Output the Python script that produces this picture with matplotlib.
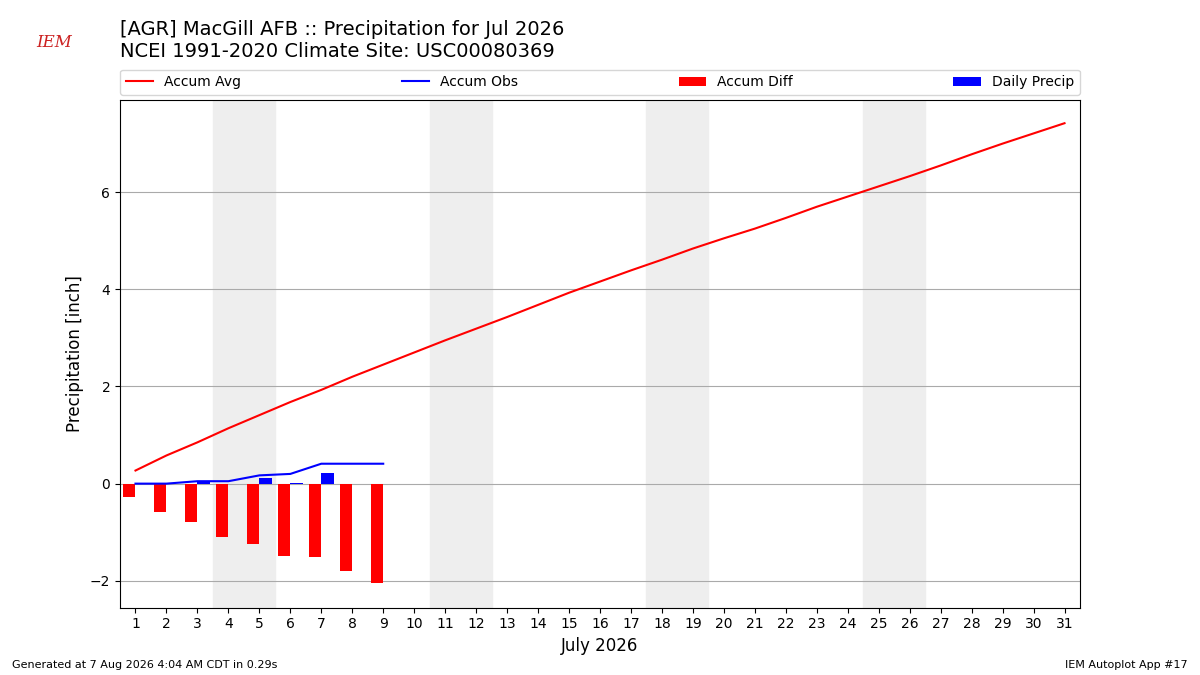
import matplotlib
matplotlib.use("Agg")
import matplotlib.pyplot as plt
import numpy as np

days = list(range(1, 32))
accum_avg = [0.27, 0.58, 0.85, 1.14, 1.41, 1.68, 1.93, 2.20, 2.45, 2.70, 2.95, 3.19, 3.43, 3.68, 3.93,
             4.16, 4.39, 4.61, 4.84, 5.05, 5.25, 5.47, 5.70, 5.91, 6.12, 6.33, 6.55, 6.78, 7.00, 7.21, 7.42]
obs_days = [1, 2, 3, 4, 5, 6, 7, 8, 9]
accum_obs = [0.0, 0.0, 0.05, 0.05, 0.17, 0.20, 0.41, 0.41, 0.41]
daily_precip = [0.0, 0.0, 0.05, 0.0, 0.12, 0.01, 0.21, 0.0, 0.0]
accum_diff = [-0.27, -0.58, -0.80, -1.09, -1.24, -1.48, -1.52, -1.79, -2.04]
weekends = [(3.5, 5.5), (10.5, 12.5), (17.5, 19.5), (24.5, 26.5)]

fig = plt.figure(figsize=(12, 6.75), dpi=100)
ax = fig.add_axes([0.1, 0.1, 0.8, 0.752])
for a, b in weekends:
    ax.axvspan(a, b, color="#eeeeee", zorder=0)
l1, = ax.plot(days, accum_avg, color="red", label="Accum Avg", zorder=3)
l2, = ax.plot(obs_days, accum_obs, color="blue", label="Accum Obs", zorder=3)
b1 = ax.bar(obs_days, accum_diff, width=-0.4, align="edge", color="red", label="Accum Diff", zorder=2)
b2 = ax.bar(obs_days, daily_precip, width=0.4, align="edge", color="blue", label="Daily Precip", zorder=2)
ax.set_xlim(0.5, 31.5)
ax.set_ylim(-2.55, 7.9)
ax.set_xticks(days)
ax.set_yticks([-2, 0, 2, 4, 6])
ax.set_yticklabels(["\u22122", "0", "2", "4", "6"])
ax.grid(axis="y", color="#aaaaaa", zorder=1)
ax.set_axisbelow(True)
ax.set_xlabel("July 2026", fontsize=12)
ax.set_ylabel("Precipitation [inch]", fontsize=12)
ax.legend(handles=[l1, l2, b1, b2], loc="lower left", bbox_to_anchor=(0, 1.01, 1, 0.05),
          ncol=4, mode="expand", borderaxespad=0, fontsize=10)
fig.text(0.1, 0.97, "[AGR] MacGill AFB :: Precipitation for Jul 2026\nNCEI 1991-2020 Climate Site: USC00080369",
         fontsize=14, va="top", ha="left")
fig.text(0.01, 0.01, "Generated at 7 Aug 2026 4:04 AM CDT in 0.29s", fontsize=8)
fig.text(0.99, 0.01, "IEM Autoplot App #17", fontsize=8, ha="right")
fig.text(0.03, 0.93, "IEM", fontsize=12, color="#cc2222", style="italic", family="serif")
fig.savefig("out.png")
